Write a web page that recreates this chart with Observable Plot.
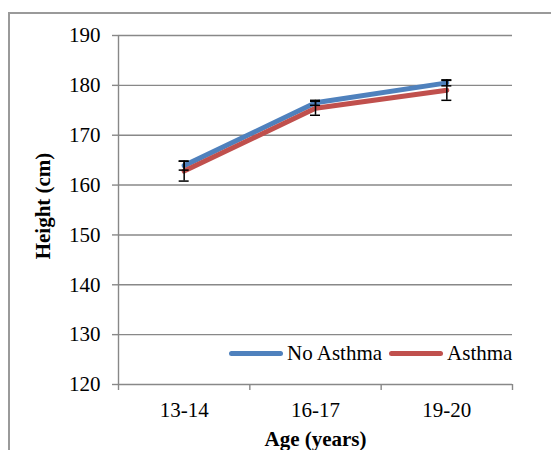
<!DOCTYPE html>
<html><head><meta charset="utf-8">
<script src="https://cdn.jsdelivr.net/npm/d3@7"></script>
<script src="https://cdn.jsdelivr.net/npm/@observablehq/plot@0.6"></script>
<style>
html,body{margin:0;padding:0;background:#fff;}
#wrap{position:relative;width:551px;height:450px;overflow:hidden;font-family:"Liberation Serif","Times New Roman",serif;}
#border{position:absolute;left:8px;top:12px;width:700px;height:600px;border-left:2px solid #9a9a9a;border-top:2px solid #9a9a9a;}
#chart{position:absolute;left:0;top:0;}
#legend{position:absolute;left:229px;top:341px;display:flex;align-items:center;font-family:"Liberation Serif","Times New Roman",serif;font-size:21px;line-height:24px;white-space:nowrap;color:#000;}
.sw{display:inline-block;width:54px;height:5px;border-radius:3px;}
#chart svg text{font-family:"Liberation Serif","Times New Roman",serif;}
</style></head>
<body><div id="wrap"><div id="border"></div><div id="chart"></div><div id="legend"></div></div>
<script>
const categories = ["13-14", "16-17", "19-20"];
const seriesNames = ["No Asthma", "Asthma"];
const colors = ["#4F81BD", "#C0504D"];
const noAsthma = [163.9, 176.5, 180.5];
const noAsthmaErr = [0.9, 0.5, 0.6];
const asthma = [162.8, 175.4, 179.0];
const asthmaErr = [2.0, 1.4, 2.0];
const yTicks = [120, 130, 140, 150, 160, 170, 180, 190];
const yLabel = "Height (cm)";
const xLabel = "Age (years)";

const rows = [];
[[noAsthma, noAsthmaErr], [asthma, asthmaErr]].forEach(([vals, errs], s) => {
  vals.forEach((v, i) => rows.push({series: seriesNames[s], cat: categories[i], pos: i + 0.5, value: v, err: errs[i]}));
});

const gray = "#888888";
const serif = '"Liberation Serif","Times New Roman",serif';
const chart = Plot.plot({
  width: 551,
  height: 450,
  marginTop: 35,
  marginRight: 39,
  marginBottom: 66,
  marginLeft: 118,
  style: {fontFamily: serif, fontSize: "21px", color: "#000", background: "transparent"},
  x: {type: "linear", domain: [0, categories.length]},
  y: {domain: [120, 190]},
  color: {domain: seriesNames, range: colors},
  marks: [
    Plot.gridY(yTicks, {stroke: gray, strokeOpacity: 1, strokeWidth: 1.4}),
    Plot.ruleX([0], {stroke: gray, strokeWidth: 1.4}),
    Plot.axisY(yTicks, {tickSize: 6, tickPadding: 12, label: null, stroke: gray, strokeWidth: 1.4, fontSize: 21, tickFormat: d => String(d)}),
    Plot.axisX(d3.range(categories.length + 1), {tickSize: 6, tickFormat: () => "", label: null, stroke: gray, strokeWidth: 1.4}),
    Plot.axisX(categories.map((c, i) => i + 0.5), {tickSize: 0, tickPadding: 18, fontSize: 21, tickFormat: d => categories[Math.floor(d)], label: null}),
    Plot.line(rows, {x: "pos", y: "value", z: "series", stroke: "series", strokeWidth: 5, strokeLinejoin: "round", strokeLinecap: "round"}),
    Plot.ruleX(rows, {x: "pos", y1: d => d.value - d.err, y2: d => d.value + d.err, stroke: "#000", strokeWidth: 1.5}),
    Plot.ruleY(rows, {y: d => d.value + d.err, x1: "pos", x2: "pos", insetLeft: -5, insetRight: -5, stroke: "#000", strokeWidth: 1.5}),
    Plot.ruleY(rows, {y: d => d.value - d.err, x1: "pos", x2: "pos", insetLeft: -5, insetRight: -5, stroke: "#000", strokeWidth: 1.5}),
    Plot.text([yLabel], {text: d => d, frameAnchor: "left", dx: -75, dy: -4, rotate: -90, textAnchor: "middle", lineAnchor: "middle", fontWeight: "bold", fontSize: 21, fill: "#000"}),
    Plot.text([xLabel], {text: d => d, frameAnchor: "bottom", dy: 55, textAnchor: "middle", lineAnchor: "middle", fontWeight: "bold", fontSize: 21, fill: "#000"})
  ]
});
document.getElementById("chart").appendChild(chart);

const legend = document.getElementById("legend");
seriesNames.forEach((name, i) => {
  const sw = document.createElement("span");
  sw.className = "sw";
  sw.style.background = colors[i];
  sw.style.marginLeft = i === 0 ? "0px" : "7px";
  sw.style.marginRight = "4px";
  const t = document.createElement("span");
  t.textContent = name;
  legend.appendChild(sw);
  legend.appendChild(t);
});
</script>
</body></html>
